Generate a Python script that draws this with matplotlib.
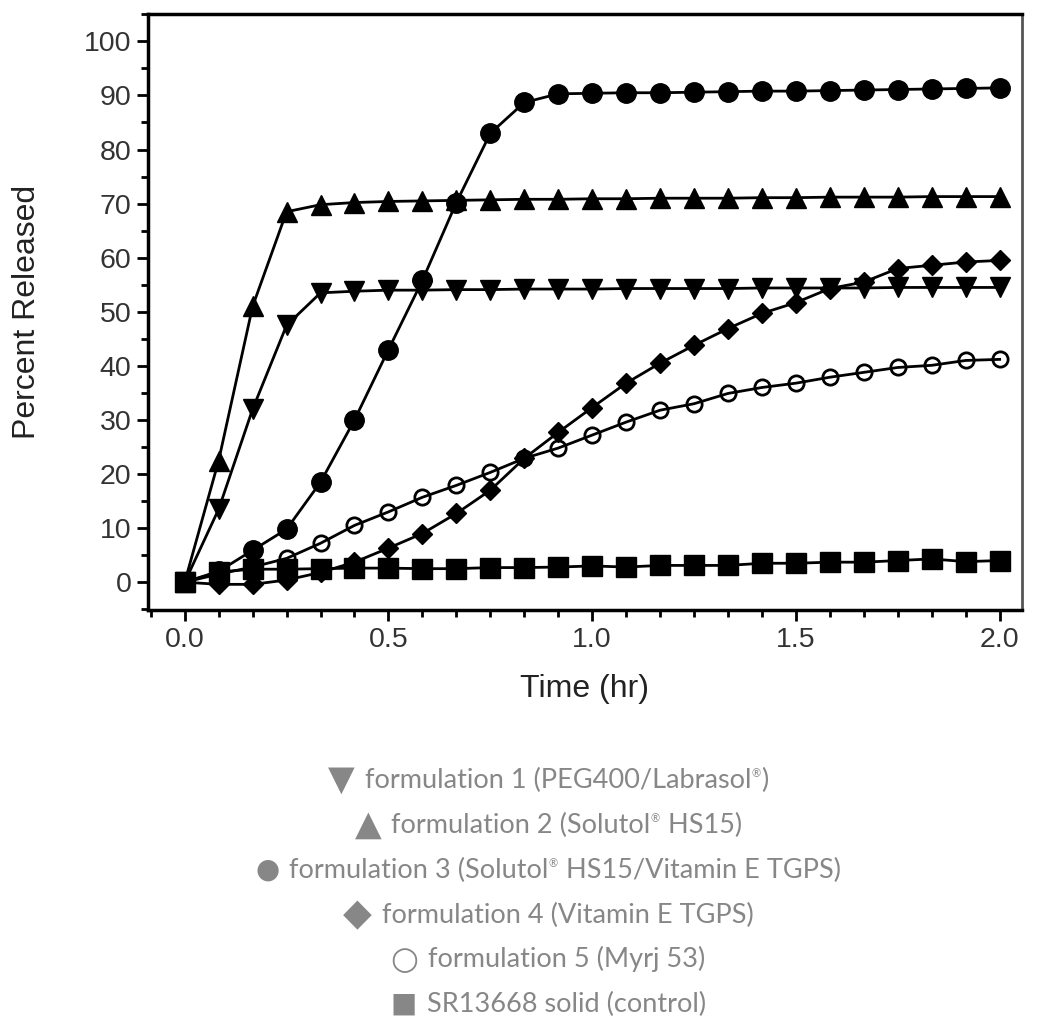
import matplotlib.pyplot as plt
from matplotlib.ticker import MultipleLocator

# Tiempos de muestreo (minutos) -> horas
minutos = [0, 5, 10, 15, 20, 25, 30, 35, 40, 45, 50, 55, 60,
           65, 70, 75, 80, 85, 90, 95, 100, 105, 110, 115, 120]
tiempo_hr = [m / 60 for m in minutos]

# Porcentaje liberado por formulación
form1 = [0, 13.5, 32, 47.5, 53.5, 53.8, 54, 54, 54.1, 54.1, 54.2, 54.2, 54.2,
         54.3, 54.3, 54.3, 54.3, 54.4, 54.4, 54.4, 54.4, 54.5, 54.5, 54.5, 54.5]
form2 = [0, 22.5, 51, 68.5, 69.8, 70.2, 70.4, 70.5, 70.6, 70.7, 70.8, 70.8, 70.9,
         70.9, 71, 71, 71, 71.1, 71.1, 71.2, 71.2, 71.2, 71.3, 71.3, 71.3]
form3 = [0, 2, 5.9, 9.8, 18.5, 30, 43, 55.8, 70.2, 83, 88.7, 90.3, 90.4,
         90.5, 90.5, 90.6, 90.7, 90.8, 90.8, 90.9, 91, 91.1, 91.2, 91.3, 91.4]
form4 = [0, -0.4, -0.4, 0.4, 1.8, 3.7, 6.3, 9, 12.7, 17, 22.9, 27.7, 32.3,
         36.8, 40.5, 43.8, 46.9, 49.7, 51.7, 54.3, 55.5, 58, 58.6, 59.2, 59.5]
form5 = [0, 1.5, 2.8, 4.4, 7.2, 10.5, 13, 15.7, 17.9, 20.3, 22.9, 24.8, 27.2,
         29.6, 31.8, 33, 34.9, 36, 36.8, 37.9, 38.8, 39.7, 40.1, 41, 41.2]
control = [0, 1.9, 2.4, 2.4, 2.5, 2.6, 2.6, 2.5, 2.5, 2.7, 2.7, 2.8, 3,
           2.8, 3.1, 3.1, 3.1, 3.5, 3.5, 3.7, 3.7, 4, 4.3, 3.8, 4]

# Textos de la leyenda (debajo de la gráfica)
simbolos = ['▼', '▲', '●', '◆', '○', '■']
etiquetas = [
    'formulation 1 (PEG400/Labrasol®)',
    'formulation 2 (Solutol® HS15)',
    'formulation 3 (Solutol® HS15/Vitamin E TGPS)',
    'formulation 4 (Vitamin E TGPS)',
    'formulation 5 (Myrj 53)',
    'SR13668 solid (control)',
]
# tamaño y desplazamiento vertical (px) de cada símbolo
tam_simbolo = [25, 25, 20, 27, 23, 20]
dy_simbolo = [-2, -2, 0, -2, -2, 0]

plt.rcParams['font.family'] = ['Liberation Sans', 'DejaVu Sans']

fig = plt.figure(figsize=(10.5, 10.24), dpi=100)
ax = fig.add_axes([0.141, 0.404, 0.832, 0.582])

estilo = dict(color='black', lw=2)
ax.plot(tiempo_hr, form1, marker='v', ms=15, **estilo)
ax.plot(tiempo_hr, form2, marker='^', ms=15, **estilo)
ax.plot(tiempo_hr, form3, marker='o', ms=14, **estilo)
ax.plot(tiempo_hr, form4, marker='D', ms=10.5, **estilo)
ax.plot(tiempo_hr, form5, marker='o', ms=11, mfc='none', mew=2, **estilo)
ax.plot(tiempo_hr, control, marker='s', ms=14, **estilo)

ax.set_xlim(-0.09, 2.054)
ax.set_ylim(-5.2, 105)
ax.xaxis.set_major_locator(MultipleLocator(0.5))
ax.xaxis.set_minor_locator(MultipleLocator(1 / 12))
ax.yaxis.set_major_locator(MultipleLocator(10))
ax.yaxis.set_minor_locator(MultipleLocator(5))
ax.xaxis.set_major_formatter(plt.FormatStrFormatter('%.1f'))

ax.tick_params(which='major', length=8, width=2, direction='out',
               labelsize=20.5, labelcolor='#333333', pad=4)
ax.tick_params(which='minor', length=5, width=2, direction='out')
for lado in ['left', 'bottom', 'top']:
    ax.spines[lado].set_linewidth(2.5)
ax.spines['right'].set_linewidth(2)
ax.spines['right'].set_color('#555555')

ax.set_xlabel('Time (hr)', fontsize=23, color='#222222', labelpad=15)
ax.set_ylabel('Percent Released', fontsize=23, color='#222222', labelpad=30)

# Leyenda: cada línea centrada, símbolo + texto gris con ® pequeño
gris = '#878787'
renderer = fig.canvas.get_renderer()
W, H = fig.bbox.width, fig.bbox.height
bases = [788, 833, 878, 923, 967, 1012]
for simbolo, ts, ds, etiqueta, yb in zip(simbolos, tam_simbolo, dy_simbolo,
                                          etiquetas, bases):
    y = 1 - yb / H
    piezas = [(simbolo, dict(family='DejaVu Sans', fontsize=ts), ds, 10)]
    partes = etiqueta.split('®')
    for i, p in enumerate(partes):
        piezas.append((p, dict(family='Lato', fontsize=19.5), 0, 0))
        if i < len(partes) - 1:
            piezas.append(('®', dict(family='Lato', fontsize=8), 11, 1))
    textos = []
    total = 0
    for txt, props, dy, gap in piezas:
        t = fig.text(0, y, txt, color=gris, ha='left', va='baseline', **props)
        w = t.get_window_extent(renderer).width if txt else 0
        textos.append((t, w, dy, gap))
        total += w + gap
    x = 0.522 * W - total / 2
    for t, w, dy, gap in textos:
        t.set_position((x / W, y + dy / H))
        x += w + gap

fig.savefig('out.png', dpi=100)
